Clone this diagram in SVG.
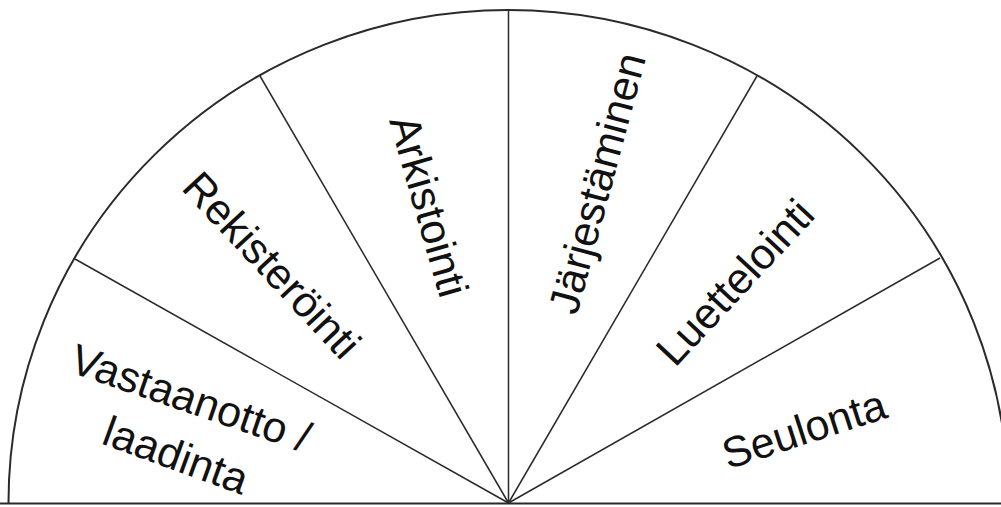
<svg xmlns="http://www.w3.org/2000/svg" width="1001" height="507" viewBox="0 0 1001 507">
<style>
.ln{stroke:#2a2a2a;stroke-width:1.5;fill:none}
.arc{stroke:#2a2a2a;stroke-width:2;fill:none}
.lb{font-family:"Liberation Sans",Arial,sans-serif;font-size:43px;fill:#111;text-anchor:middle}
</style>
<rect width="1001" height="507" fill="#fff"/>
<g id="frame">
<path class="arc" d="M8.5,503 A500,493 0 0 1 1008.5,503"/>
<line class="arc" x1="0" y1="503.5" x2="1001" y2="503.5"/>
</g>
<g id="connectors">
<line class="ln" x1="508.5" y1="503" x2="75" y2="259"/>
<line class="ln" x1="508.5" y1="503" x2="260" y2="76"/>
<line class="ln" x1="508.5" y1="503" x2="508.5" y2="10"/>
<line class="ln" x1="508.5" y1="503" x2="757" y2="76"/>
<line class="ln" x1="508.5" y1="503" x2="940" y2="258"/>
</g>
<g id="vastaanotto"><text class="lb" transform="translate(191,398) rotate(19)" y="15">Vastaanotto /</text><text class="lb" transform="translate(176,455) rotate(20)" y="15">laadinta</text></g>
<g id="rekisterointi"><text class="lb" transform="translate(272,265) rotate(47)" y="15">Rekisteröinti</text></g>
<g id="arkistointi"><text class="lb" transform="translate(429,206) rotate(74)" y="15">Arkistointi</text></g>
<g id="jarjestaminen"><text class="lb" transform="translate(597,183) rotate(-75)" y="15">Järjestäminen</text></g>
<g id="luettelointi"><text class="lb" transform="translate(735,282) rotate(-47)" y="15">Luettelointi</text></g>
<g id="seulonta"><text class="lb" transform="translate(804,429) rotate(-18)" y="15">Seulonta</text></g>
</svg>
